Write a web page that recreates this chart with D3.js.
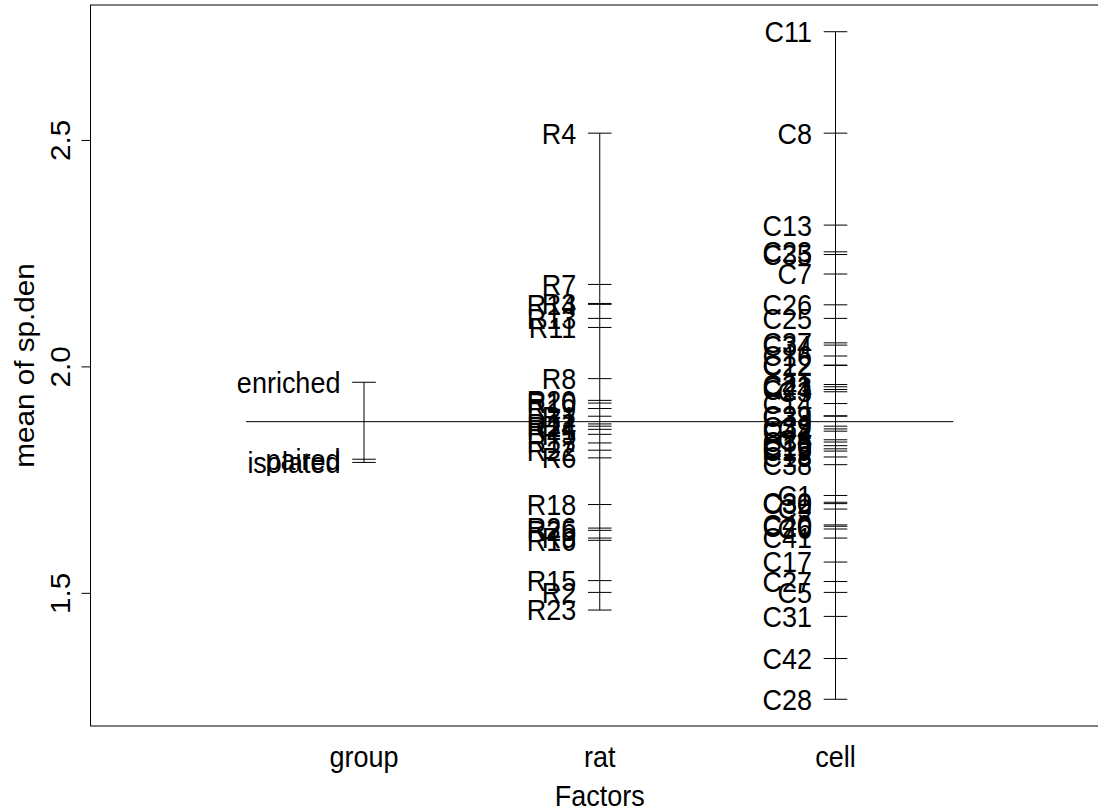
<!DOCTYPE html>
<html lang="en">
<head>
<meta charset="UTF-8">
<title>plot.design of sp.den</title>
<script src="https://cdn.jsdelivr.net/npm/d3@7"></script>
<style>
  body { margin: 0; background: #fff; overflow: hidden; }
  text { font-family: "Liberation Sans", Arial, sans-serif; }
</style>
</head>
<body>
<div id="container"></div>
<script>
// factor names along the x axis
let factors = ['group', 'rat', 'cell'];

// level means, one array per factor
let groupLevels = ['enriched', 'paired', 'isolated'];
let groupMeans  = [1.965, 1.795, 1.788];

let ratLevels = ['R4','R7','R3','R14','R13','R11','R8',
                 'R20','R10','R19','R1','R12','R24','R21','R5','R17','R22','R6',
                 'R18','R26','R25','R9','R16','R15','R2','R23'];
let ratMeans  = [2.515, 2.181, 2.139, 2.137, 2.106, 2.086, 1.973,
                 1.925, 1.919, 1.907, 1.890, 1.873, 1.868, 1.861, 1.850, 1.831, 1.815, 1.798,
                 1.695, 1.643, 1.638, 1.621, 1.616, 1.527, 1.501, 1.462];

let cellLevels = ['C11','C8','C13','C23','C35','C7','C26','C25',
                  'C37','C34','C16','C12','C22','C21','C43','C24','C3','C14',
                  'C29','C33','C39','C2','C44','C4','C36','C10','C15','C19','C18','C38',
                  'C1','C30','C32','C9','C40','C20','C6','C41','C17','C27','C5','C31','C42','C28'];
let cellMeans  = [2.739, 2.515, 2.312, 2.253, 2.247, 2.204, 2.136, 2.106,
                  2.052, 2.047, 2.023, 2.003, 2.002, 1.960, 1.955, 1.949, 1.944, 1.918,
                  1.891, 1.890, 1.868, 1.862, 1.857, 1.838, 1.833, 1.825, 1.818, 1.813, 1.800, 1.783,
                  1.715, 1.700, 1.697, 1.685, 1.650, 1.647, 1.641, 1.621, 1.568, 1.525, 1.501, 1.448, 1.355, 1.265];

let grandMean = 1.878;
let yTicks = [1.5, 2.0, 2.5];

let W = 1098, H = 812;
let fs = 27;
let stretch = 1.1;   // the original text is a bit taller than it is wide

let svg = d3.select('#container')
    .append('svg')
    .attr('width', W)
    .attr('height', H);

// R style: xlim c(0, 4), ylim from data, both padded 4%
let y = d3.scaleLinear()
    .domain([1.206, 2.798])
    .range([726, 5]);

let x = d3.scaleLinear()
    .domain([1, 3])
    .range([364, 835.5]);

let x0 = x(-0.16), x1 = x(4.16);

// horizontal text helper
function htext(sel, px, py) {
    return sel.attr('transform', 'translate(' + px + ',' + py + ') scale(1,' + stretch + ')')
        .attr('dy', '0.35em')
        .attr('font-size', fs)
        .attr('fill', '#000');
}

// frame
svg.append('rect')
    .attr('x', x0).attr('y', y(2.798))
    .attr('width', x1 - x0).attr('height', y(1.206) - y(2.798))
    .attr('fill', 'none').attr('stroke', '#000').attr('stroke-width', 1);

// y axis
let yAxis = svg.append('g')
    .attr('transform', 'translate(' + x0 + ',0)')
    .call(d3.axisLeft(y).tickValues(yTicks).tickFormat(d3.format('.1f')).tickSize(9));
yAxis.select('.domain').remove();
yAxis.selectAll('.tick line').attr('stroke', '#000');
yAxis.selectAll('.tick text')
    .attr('font-size', fs)
    .attr('fill', '#000')
    .attr('text-anchor', 'middle')
    .attr('x', null)
    .attr('dy', '0.35em')
    .attr('transform', 'translate(-30,0) rotate(-90) scale(' + stretch + ',1)');

svg.append('text')
    .attr('transform', 'translate(25,' + ((y(1.206) + y(2.798)) / 2) + ') rotate(-90) scale(' + stretch + ',1)')
    .attr('text-anchor', 'middle')
    .attr('dy', '0.35em')
    .attr('font-size', fs)
    .text('mean of sp.den');

// factor names and title
svg.selectAll('.fname')
    .data(factors)
    .enter().append('text')
    .attr('class', 'fname')
    .attr('text-anchor', 'middle')
    .each(function(d, i) { htext(d3.select(this), x(i + 1), 757); })
    .text(d => d);

htext(svg.append('text'), x(2), 796)
    .attr('text-anchor', 'middle')
    .text('Factors');

// grand mean line
svg.append('line')
    .attr('x1', x(0.5)).attr('x2', x(3.5))
    .attr('y1', y(grandMean)).attr('y2', y(grandMean))
    .attr('stroke', '#000');

let sets = [
    {levels: groupLevels, means: groupMeans},
    {levels: ratLevels, means: ratMeans},
    {levels: cellLevels, means: cellMeans}
];

sets.forEach(function(s, i) {
    let g = svg.append('g');
    let cx = x(i + 1);
    g.append('line')
        .attr('x1', cx).attr('x2', cx)
        .attr('y1', y(d3.max(s.means))).attr('y2', y(d3.min(s.means)))
        .attr('stroke', '#000');
    g.selectAll('.tk')
        .data(s.means)
        .enter().append('line')
        .attr('class', 'tk')
        .attr('x1', x(i + 1 - 0.05)).attr('x2', x(i + 1 + 0.05))
        .attr('y1', d => y(d)).attr('y2', d => y(d))
        .attr('stroke', '#000');
    g.selectAll('.lb')
        .data(s.levels)
        .enter().append('text')
        .attr('class', 'lb')
        .attr('text-anchor', 'end')
        .each(function(d, j) { htext(d3.select(this), x(i + 1 - 0.1), y(s.means[j])); })
        .text(d => d);
});
</script>
</body>
</html>
